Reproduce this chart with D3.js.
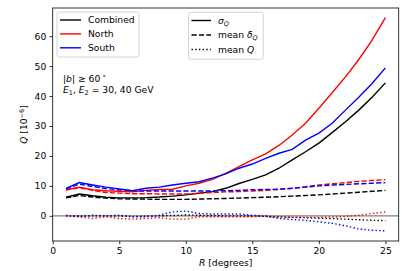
<!DOCTYPE html>
<html>
<head>
<meta charset="utf-8">
<script src="https://cdn.jsdelivr.net/npm/d3@7"></script>
<style>
  body { margin: 0; background: #fff; }
  svg { display: block; font-family: "DejaVu Sans", sans-serif; }
</style>
</head>
<body>
<div class="graph"></div>
<script>
// R in degrees
var radii = [1, 2, 3, 4, 5, 6, 7, 8, 9, 10, 11, 12, 13, 14, 15, 16, 17, 18, 19, 20, 21, 22, 23, 24, 25];

// sigma_Q
var combinedSigma = [6.2, 7.3, 6.7, 6.2, 6.0, 6.0, 6.1, 6.3, 6.6, 7.0, 7.6, 8.1, 9.2, 10.8, 12.2, 13.7, 15.9, 18.7, 21.4, 24.3, 27.8, 31.4, 35.3, 39.6, 44.4];
var northSigma = [8.7, 9.6, 8.7, 8.4, 8.2, 8.0, 8.5, 8.8, 8.9, 10.0, 10.9, 12.2, 14.2, 16.4, 18.7, 20.7, 23.5, 27.0, 30.9, 35.9, 41.1, 46.4, 52.2, 58.7, 66.2];
var southSigma = [9.2, 11.1, 10.3, 9.6, 9.0, 8.4, 9.2, 9.6, 10.3, 10.9, 11.4, 12.6, 14.0, 15.9, 17.3, 19.2, 20.9, 22.2, 25.3, 27.6, 30.9, 35.3, 39.6, 44.2, 49.4];

// mean delta_Q
var combinedDelta = [6.0, 6.8, 6.3, 5.9, 5.7, 5.6, 5.6, 5.5, 5.5, 5.5, 5.6, 5.7, 5.8, 5.9, 6.1, 6.2, 6.4, 6.6, 6.8, 7.0, 7.3, 7.6, 7.9, 8.2, 8.5];
var northDelta = [8.6, 9.4, 8.5, 7.8, 7.6, 7.4, 7.4, 7.3, 7.3, 7.3, 7.5, 7.8, 8.0, 8.1, 8.3, 8.5, 8.8, 9.2, 9.7, 10.3, 10.7, 11.1, 11.5, 11.8, 12.1];
var southDelta = [9.0, 10.6, 9.8, 9.1, 8.7, 8.4, 8.3, 8.3, 8.3, 8.3, 8.3, 8.3, 8.4, 8.5, 8.7, 8.8, 8.9, 9.2, 9.6, 10.0, 10.3, 10.5, 10.7, 10.9, 11.1];

// mean Q
var combinedMean = [0.1, 0, 0, 0, 0, -0.2, -0.1, 0, 0.1, 0.3, 0.2, 0.1, 0, 0, -0.1, -0.2, -0.4, -0.5, -0.6, -0.8, -0.9, -1.1, -1.3, -1.5, -1.6];
var northMean = [0.2, -0.3, -0.9, -0.3, -0.9, -1.1, -0.9, -0.6, -1.1, -1.1, -0.3, -0.3, -0.3, -0.3, -0.3, 0, -0.3, -0.5, -0.5, -0.5, -0.4, -0.2, 0.2, 0.8, 1.3];
var southMean = [0, -0.3, 0.2, 0, 0.2, -0.3, -0.3, 0.2, 1.3, 1.6, 0.8, 0.6, 0.6, 0.6, 0.2, -0.1, -0.9, -1.2, -1.5, -2.0, -2.5, -3.3, -4.4, -4.8, -5.0];

var regionNames = ["Combined", "North", "South"];
var regionColors = ["#000000", "#ff0000", "#0000ff"];
var xTicks = [0, 5, 10, 15, 20, 25];
var yTicks = [0, 10, 20, 30, 40, 50, 60];

var loadChart = function () {
    const WIDTH = 407;
    const HEIGHT = 271;
    const LEFT = 52.7, RIGHT = 398.7, TOP = 8, BOTTOM = 241;
    const FONT = 9.2;
    const LW = 1.4;

    var xScale = d3.scaleLinear().domain([0, 26]).range([LEFT, RIGHT]);
    var yScale = d3.scaleLinear().domain([-8.4, 69.4]).range([BOTTOM, TOP]);

    var svg = d3.select(".graph").append("svg")
        .attr("width", WIDTH)
        .attr("height", HEIGHT);

    // zero line
    svg.append("line")
        .attr("x1", LEFT).attr("x2", RIGHT)
        .attr("y1", yScale(0)).attr("y2", yScale(0))
        .style("stroke", "#808080")
        .style("stroke-width", 1.2);

    var line = d3.line()
        .x(function (d) { return xScale(d[0]); })
        .y(function (d) { return yScale(d[1]); });

    var sigmas = [combinedSigma, northSigma, southSigma];
    var deltas = [combinedDelta, northDelta, southDelta];
    var means = [combinedMean, northMean, southMean];
    var dashes = [null, (LW * 3.7) + "," + (LW * 1.6), LW + "," + (LW * 1.65)];

    regionNames.forEach(function (name, i) {
        [sigmas[i], deltas[i], means[i]].forEach(function (vals, k) {
            svg.append("path")
                .datum(radii.map(function (r, j) { return [r, vals[j]]; }))
                .attr("d", line)
                .style("fill", "none")
                .style("stroke", regionColors[i])
                .style("stroke-width", LW)
                .style("stroke-dasharray", dashes[k]);
        });
    });

    // axes
    var xAxis = d3.axisBottom(xScale).tickValues(xTicks).tickSize(3.2).tickPadding(3.2);
    var gx = svg.append("g")
        .attr("transform", "translate(0," + BOTTOM + ")")
        .call(xAxis);
    var yAxis = d3.axisLeft(yScale).tickValues(yTicks).tickSize(3.2).tickPadding(3.2);
    var gy = svg.append("g")
        .attr("transform", "translate(" + LEFT + ",0)")
        .call(yAxis);
    [gx, gy].forEach(function (g) {
        g.select(".domain").remove();
        g.selectAll("line").style("stroke", "#000").style("stroke-width", 0.8);
        g.selectAll("text").style("font-family", "DejaVu Sans").style("font-size", FONT + "px").style("fill", "#000");
    });

    // frame
    svg.append("rect")
        .attr("x", LEFT).attr("y", TOP)
        .attr("width", RIGHT - LEFT).attr("height", BOTTOM - TOP)
        .style("fill", "none")
        .style("stroke", "#000")
        .style("stroke-width", 0.8);

    // axis labels
    var xl = svg.append("text")
        .attr("x", (LEFT + RIGHT) / 2).attr("y", 266)
        .attr("text-anchor", "middle")
        .style("font-size", FONT + "px");
    xl.append("tspan").style("font-style", "italic").text("R");
    xl.append("tspan").text(" [degrees]");

    var yl = svg.append("text")
        .attr("transform", "translate(27," + ((TOP + BOTTOM) / 2) + ") rotate(-90)")
        .attr("text-anchor", "middle")
        .style("font-size", FONT + "px");
    yl.append("tspan").style("font-style", "italic").text("Q");
    yl.append("tspan").text(" [10");
    yl.append("tspan").attr("dy", -3.5).style("font-size", "6.5px").text("\u22126");
    yl.append("tspan").attr("dy", 3.5).text("]");

    // annotation
    var a1 = svg.append("text").attr("x", 63).attr("y", 81.5).style("font-size", FONT + "px");
    a1.append("tspan").text("|");
    a1.append("tspan").style("font-style", "italic").text("b");
    a1.append("tspan").text("| \u2265 60");
    a1.append("tspan").attr("dy", -3.5).style("font-size", "6.5px").text(" \u2218");
    var a2 = svg.append("text").attr("x", 63).attr("y", 93).style("font-size", FONT + "px");
    a2.append("tspan").style("font-style", "italic").text("E");
    a2.append("tspan").attr("dy", 2).style("font-size", "6.5px").text("1");
    a2.append("tspan").attr("dy", -2).text(", ");
    a2.append("tspan").style("font-style", "italic").text("E");
    a2.append("tspan").attr("dy", 2).style("font-size", "6.5px").text("2");
    a2.append("tspan").attr("dy", -2).text(" = 30, 40 GeV");

    // legend: regions
    var leg1 = svg.append("g");
    leg1.append("rect")
        .attr("x", 57).attr("y", 12).attr("width", 82).attr("height", 45).attr("rx", 2)
        .style("fill", "#fff").style("fill-opacity", 0.8)
        .style("stroke", "#cccccc").style("stroke-width", 0.8);
    regionNames.forEach(function (name, i) {
        var yy = 20 + i * 13.9;
        leg1.append("line")
            .attr("x1", 60).attr("x2", 81).attr("y1", yy).attr("y2", yy)
            .style("stroke", regionColors[i]).style("stroke-width", LW);
        leg1.append("text")
            .attr("x", 88).attr("y", yy + 3.3)
            .style("font-size", FONT + "px")
            .text(name);
    });

    // legend: quantities
    var leg2 = svg.append("g");
    leg2.append("rect")
        .attr("x", 188.5).attr("y", 12.3).attr("width", 74.8).attr("height", 47).attr("rx", 2)
        .style("fill", "#fff").style("fill-opacity", 0.8)
        .style("stroke", "#cccccc").style("stroke-width", 0.8);
    var rows = [
        [["\u03c3", true, 0], ["Q", true, 1]],
        [["mean ", false, 0], ["\u03b4", true, 0], ["Q", true, 1]],
        [["mean ", false, 0], ["Q", true, 0]]
    ];
    rows.forEach(function (parts, i) {
        var yy = 20.5 + i * 14.5;
        leg2.append("line")
            .attr("x1", 191.5).attr("x2", 211).attr("y1", yy).attr("y2", yy)
            .style("stroke", "#000").style("stroke-width", LW)
            .style("stroke-dasharray", dashes[i]);
        var t = leg2.append("text")
            .attr("x", 218).attr("y", yy + 3.3)
            .style("font-size", FONT + "px");
        var shift = 0;
        parts.forEach(function (p) {
            var ts = t.append("tspan").text(p[0]);
            if (p[1]) ts.style("font-style", "italic");
            var want = p[2] ? 2 : 0;
            if (want !== shift) ts.attr("dy", want - shift);
            if (p[2]) ts.style("font-size", "6.5px");
            shift = want;
        });
    });
};

window.onload = loadChart();
</script>
</body>
</html>
